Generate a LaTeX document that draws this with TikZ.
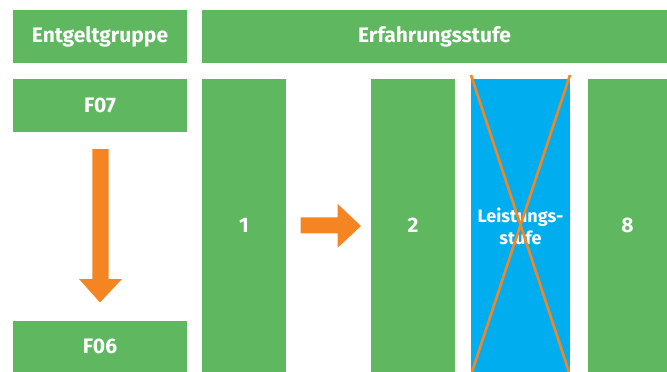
\documentclass[tikz,border=0pt]{standalone}
\usepackage{fontspec}
\setmainfont{Fira Sans}
\definecolor{boxgreen}{HTML}{5FB860}
\definecolor{stageblue}{HTML}{00AEEF}
\definecolor{arroworange}{HTML}{F58523}
\begin{document}
\begin{tikzpicture}[x=1pt,y=-1pt,
  greenbox/.style={inner sep=0pt,text=white,font=\bfseries\fontsize{21}{24}\selectfont},
  bluebox/.style={inner sep=0pt,text=white,align=center,font=\bfseries\fontsize{18}{22}\selectfont},
  crossline/.style={draw=arroworange,line width=2.6pt},
  blockarrow/.style={fill=arroworange,draw=none}]
  \useasboundingbox (0,0) rectangle (667,372);
  % header row
  \fill[boxgreen] (13,10) rectangle (187,63);
  \node[greenbox] (hgroup) at (100,36.5) {Entgeltgruppe};
  \fill[boxgreen] (202,10) rectangle (667,63);
  \node[greenbox] (hstage) at (434.5,36.5) {Erfahrungsstufe};
  % pay groups
  \fill[boxgreen] (13,79) rectangle (187,132);
  \node[greenbox] (f07) at (100,105.5) {F07};
  \fill[boxgreen] (13,321) rectangle (187,372);
  \node[greenbox] (f06) at (100,346.5) {F06};
  % experience stages
  \fill[boxgreen] (202,79) rectangle (286,372);
  \node[greenbox] (s1) at (244,225.5) {1};
  \fill[boxgreen] (371,79) rectangle (455,372);
  \node[greenbox] (s2) at (413,225.5) {2};
  \fill[stageblue] (471,79) rectangle (570,372);
  \node[bluebox] (sperf) at (520.5,226) {Leistungs-\\stufe};
  \fill[boxgreen] (588,79) rectangle (667,372);
  \node[greenbox] (s8) at (627.5,225.5) {8};
  % crossed-out performance stage
  \coordinate (xtl) at (471,75);
  \coordinate (xtr) at (570,75);
  \coordinate (xbl) at (472,372);
  \coordinate (xbr) at (569,372);
  \draw[crossline] (xtl) -- (xbr);
  \draw[crossline] (xtr) -- (xbl);
  % downward block arrow
  \fill[blockarrow] (92.3,149) -- (108.7,149) -- (108.7,279) -- (122,279)
    -- (100,302.5) -- (79,279) -- (92.3,279) -- cycle;
  % rightward block arrow
  \fill[blockarrow] (300.5,217.3) -- (337.7,217.3) -- (337.7,204) -- (361,226)
    -- (337.7,247.7) -- (337.7,233.3) -- (300.5,233.3) -- cycle;
\end{tikzpicture}
\end{document}
